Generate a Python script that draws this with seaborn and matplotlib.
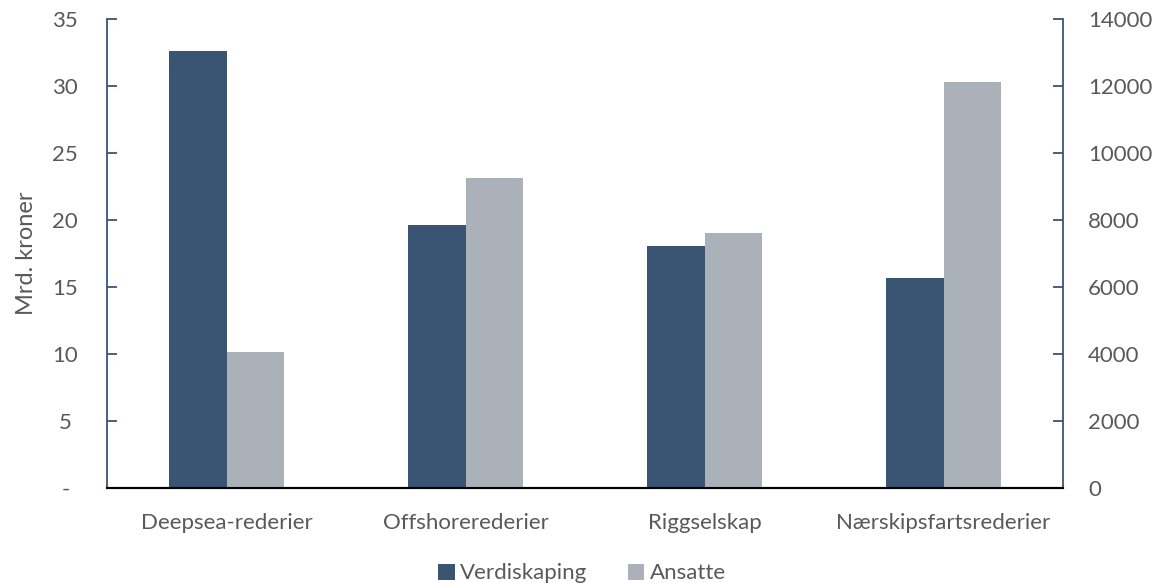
import pandas as pd
import matplotlib.pyplot as plt
from matplotlib.patches import Patch
import seaborn as sns

# data
kategorier = ['Deepsea-rederier', 'Offshorerederier', 'Riggselskap', 'Nærskipsfartsrederier']
verdiskaping = [32.6, 19.6, 18.05, 15.7]    # mrd. kroner (venstre akse)
ansatte = [4070, 9240, 7610, 12120]         # antall (høyre akse)
serier = ['Verdiskaping', 'Ansatte']
venstre_ticks = [0, 5, 10, 15, 20, 25, 30, 35]
venstre_labels = ['-', '5', '10', '15', '20', '25', '30', '35']
hoyre_ticks = [0, 2000, 4000, 6000, 8000, 10000, 12000, 14000]

farger = {'Verdiskaping': '#3a5573', 'Ansatte': '#abb1b8'}
tekst = '#595959'
blaa = '#3a5573'
fs = 16

sns.set_style('white')
plt.rcParams['font.family'] = ['Lato', 'DejaVu Sans']

df1 = pd.DataFrame({'kategori': kategorier, 'verdi': verdiskaping, 'serie': 'Verdiskaping'})
df2 = pd.DataFrame({'kategori': kategorier, 'verdi': ansatte, 'serie': 'Ansatte'})

fig = plt.figure(figsize=(11.57, 5.83), dpi=100)
ax = fig.add_axes([0.0925, 0.163, 0.8263, 0.8044])
ax2 = ax.twinx()

sns.barplot(data=df1, x='kategori', y='verdi', hue='serie', hue_order=serier, dodge=True,
            palette=farger, order=kategorier, width=0.48, saturation=1, ax=ax)
sns.barplot(data=df2, x='kategori', y='verdi', hue='serie', hue_order=serier, dodge=True,
            palette=farger, order=kategorier, width=0.48, saturation=1, ax=ax2)

for a in (ax, ax2):
    if a.get_legend() is not None:
        a.get_legend().remove()
    for p in a.patches:
        p.set_edgecolor('none')

ax.set_xlim(-0.5, 3.5)
ax.set_ylim(0, 35)
ax2.set_ylim(0, 14000)
ax.set_yticks(venstre_ticks)
ax.set_yticklabels(venstre_labels)
ax2.set_yticks(hoyre_ticks)
ax2.set_yticklabels([str(t) for t in hoyre_ticks])

# x-ticks at category borders, labels in the middle
ax.set_xticks([0, 1, 2, 3])
ax.set_xticklabels(kategorier)
ax.set_xticks([-0.5, 0.5, 1.5, 2.5, 3.5], minor=True)
ax.tick_params(axis='x', which='major', length=0, pad=18, labelsize=fs, labelcolor=tekst)
ax.tick_params(axis='x', which='minor', direction='in', length=7, width=1.3, color='black')

ax.tick_params(axis='y', direction='in', length=7, width=1.3, color=blaa, labelsize=fs,
               labelcolor=tekst, pad=30, left=True)
for lbl in ax.get_yticklabels():
    lbl.set_horizontalalignment('center')
ax2.tick_params(axis='y', direction='in', length=7, width=1.3, color=blaa, labelsize=fs,
                labelcolor=tekst, pad=18, right=True)

ax.set_xlabel('')
ax2.set_xlabel('')
ax.set_ylabel('Mrd. kroner', fontsize=fs + 1, color=tekst, labelpad=11)
ax2.set_ylabel('')

for a in (ax, ax2):
    a.spines['top'].set_visible(False)
    a.spines['left'].set_color(blaa)
    a.spines['right'].set_color(blaa)
    a.spines['left'].set_linewidth(1.3)
    a.spines['right'].set_linewidth(1.3)
    a.spines['bottom'].set_color('black')
    a.spines['bottom'].set_linewidth(1.5)
    a.spines['left'].set_visible(a is ax)
    a.spines['right'].set_visible(a is ax2)
ax2.spines['bottom'].set_zorder(5)

handles = [Patch(facecolor=farger[s], edgecolor='none') for s in serier]
fig.legend(handles, serier, loc='lower center', bbox_to_anchor=(0.503, -0.035), ncol=2,
           frameon=False, fontsize=fs, labelcolor=tekst, handlelength=0.75, handleheight=0.75,
           handletextpad=0.25, columnspacing=1.8)

fig.savefig('out.png', dpi=100)
